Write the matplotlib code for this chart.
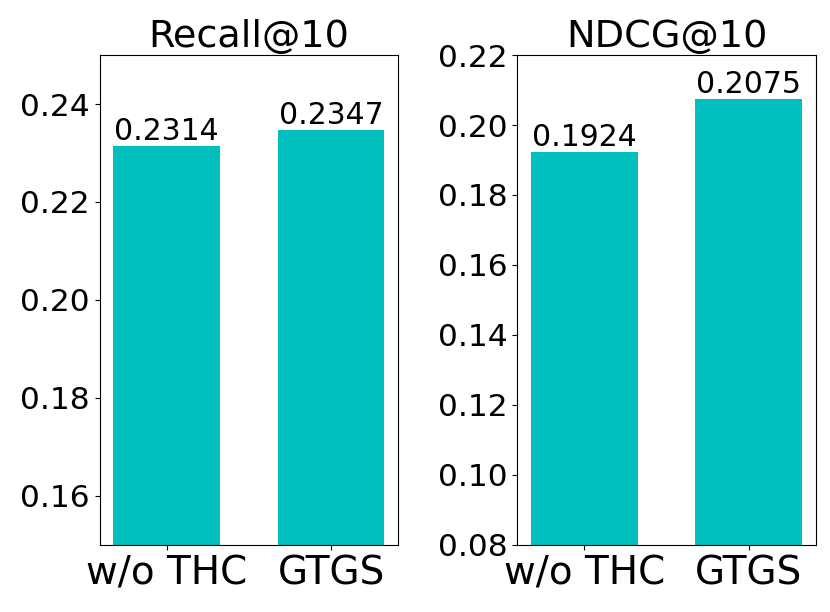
import matplotlib
matplotlib.use('Agg')
import matplotlib.pyplot as plt

models = ['w/o THC', 'GTGS']
recall = [0.2314, 0.2347]
ndcg = [0.1924, 0.2075]

fig, (ax1, ax2) = plt.subplots(1, 2, figsize=(8.3, 6.12), dpi=100)

for ax, vals, title, lim in [(ax1, recall, 'Recall@10', (0.15, 0.25)),
                             (ax2, ndcg, 'NDCG@10', (0.08, 0.22))]:
    bars = ax.bar(models, vals, width=0.65, color='c')
    ax.set_ylim(*lim)
    ax.set_title(title, fontsize=27.5)
    ax.tick_params(axis='y', labelsize=22.5)
    ax.tick_params(axis='x', labelsize=28)
    for b, v in zip(bars, vals):
        ax.text(b.get_x() + b.get_width() / 2, v, '%.4f' % v,
                ha='center', va='bottom', fontsize=21.5)

ax1.set_yticks([0.16, 0.18, 0.20, 0.22, 0.24])
ax2.set_yticks([0.08, 0.10, 0.12, 0.14, 0.16, 0.18, 0.20, 0.22])

plt.subplots_adjust(left=0.12, right=0.983, top=0.91, bottom=0.11, wspace=0.4)
plt.savefig('out.png')
